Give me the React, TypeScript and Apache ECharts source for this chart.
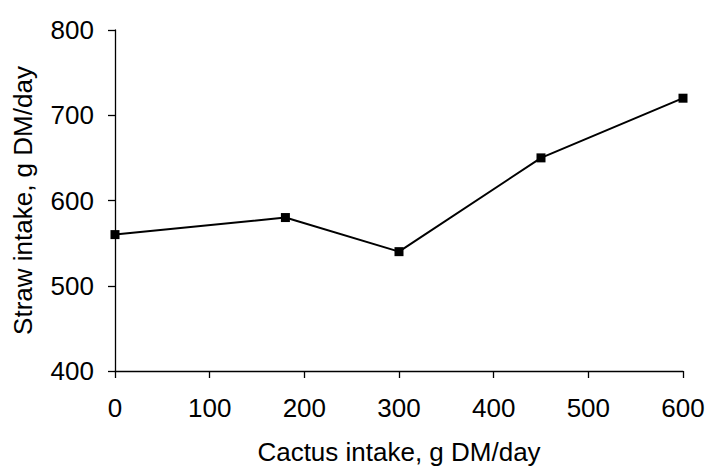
import React, { useEffect, useRef } from "react";
import * as echarts from "echarts";

const cactusIntake = [0, 180, 300, 450, 600];
const strawIntake = [560, 580, 540, 650, 720];
const xTitle = "Cactus intake, g DM/day";
const yTitle = "Straw intake, g DM/day";

export default function App() {
  const ref = useRef<HTMLDivElement>(null);
  useEffect(() => {
    const chart = echarts.init(ref.current!, null, { renderer: "svg" });
    const font = "'Liberation Sans', Arial, sans-serif";
    chart.setOption({
      animation: false,
      backgroundColor: "#fff",
      grid: { left: 115, right: 23, top: 30, bottom: 95, containLabel: false, outerBoundsMode: "none" },
      xAxis: {
        type: "value",
        min: 0,
        max: 600,
        interval: 100,
        name: xTitle,
        nameLocation: "middle",
        nameGap: 70,
        nameTextStyle: { fontFamily: font, fontSize: 26, lineHeight: 22, color: "#000" },
        axisLine: { lineStyle: { color: "#000", width: 1.3 } },
        axisTick: { show: true, length: 7, lineStyle: { color: "#000", width: 1.3 } },
        axisLabel: { fontFamily: font, fontSize: 26, color: "#000", margin: 24 },
        splitLine: { show: false },
      },
      yAxis: {
        type: "value",
        min: 400,
        max: 800,
        interval: 100,
        name: yTitle,
        nameLocation: "middle",
        nameGap: 79,
        nameTextStyle: { fontFamily: font, fontSize: 26, color: "#000" },
        axisLine: { show: true, lineStyle: { color: "#000", width: 1.3 } },
        axisTick: { show: true, length: 7, lineStyle: { color: "#000", width: 1.3 } },
        axisLabel: { fontFamily: font, fontSize: 26, color: "#000", margin: 21 },
        splitLine: { show: false },
      },
      series: [
        {
          type: "line",
          data: cactusIntake.map((x, i) => [x, strawIntake[i]]),
          symbol: "rect",
          symbolSize: 9,
          itemStyle: { color: "#000" },
          lineStyle: { color: "#000", width: 2 },
        },
      ],
    });
    return () => chart.dispose();
  }, []);
  return <div ref={ref} style={{ width: 706, height: 466, position: "absolute", left: 0, top: 0 }} />;
}
